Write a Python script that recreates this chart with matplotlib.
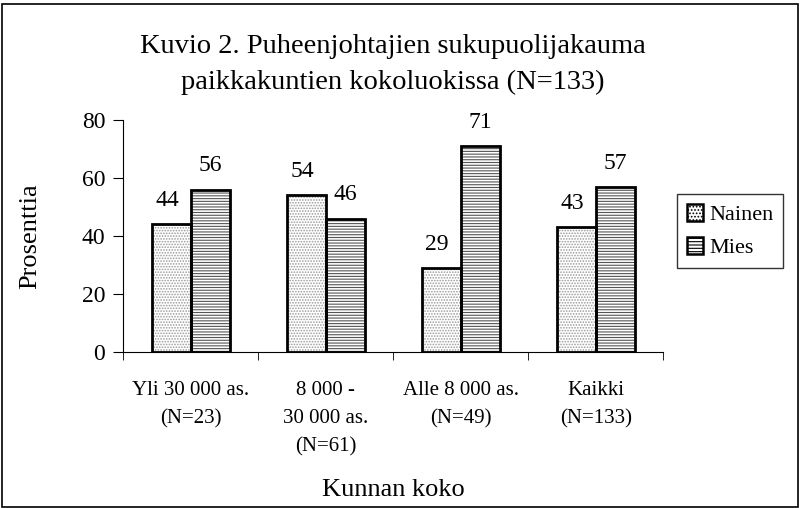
import matplotlib.pyplot as plt
import numpy as np
from matplotlib.patches import Patch, Rectangle

categories = ['Yli 30 000 as.\n(N=23)', '8 000 -\n30 000 as.\n(N=61)',
              'Alle 8 000 as.\n(N=49)', 'Kaikki\n(N=133)']
nainen = [44, 54, 29, 43]
mies = [56, 46, 71, 57]

plt.rcParams['font.family'] = ['Liberation Serif', 'DejaVu Serif']
plt.rcParams['hatch.linewidth'] = 0.8

fig = plt.figure(figsize=(8, 5.08), dpi=100)
ax = fig.add_axes([0.154, 0.307, 0.675, 0.457])

x = np.arange(len(categories))
w = 0.29

# hatch layer, then black outline on top
ax.bar(x - w / 2, nainen, w, facecolor='white', edgecolor='#9a9a9a', hatch='......', linewidth=0)
ax.bar(x + w / 2, mies, w, facecolor='white', edgecolor='#555555', hatch='------', linewidth=0)
ax.bar(x - w / 2, nainen, w, fill=False, edgecolor='black', linewidth=2)
ax.bar(x + w / 2, mies, w, fill=False, edgecolor='black', linewidth=2)

for i in range(len(categories)):
    ax.text(x[i] - w / 2 - 0.03, nainen[i] + 4.5, str(nainen[i]), ha='center', va='bottom', fontsize=17)
    ax.text(x[i] + w / 2, mies[i] + 4.5, str(mies[i]), ha='center', va='bottom', fontsize=17)

ax.set_xlim(-0.5, 3.5)
ax.set_ylim(0, 80)
ax.set_yticks([0, 20, 40, 60, 80])
ax.tick_params(axis='y', labelsize=17, length=7, direction='out', pad=6)
ax.set_xticks(x)
ax.set_xticklabels(categories, fontsize=15, linespacing=1.65)
ax.tick_params(axis='x', length=0, pad=21)
ax.set_xticks(np.arange(-0.5, 4, 1), minor=True)
ax.tick_params(axis='x', which='minor', length=6, direction='out')

ax.spines['top'].set_visible(False)
ax.spines['right'].set_visible(False)

ax.set_ylabel('Prosenttia', fontsize=19, labelpad=29)
ax.set_xlabel('Kunnan koko', fontsize=19, labelpad=16)
ax.set_title('Kuvio 2. Puheenjohtajien sukupuolijakauma\npaikkakuntien kokoluokissa (N=133)',
             fontsize=20.5, linespacing=1.6, pad=22)

handles = [Patch(facecolor='white', edgecolor='black', hatch='.....', linewidth=1.8, label='Nainen'),
           Patch(facecolor='white', edgecolor='black', hatch='-----', linewidth=1.8, label='Mies')]
leg = ax.legend(handles=handles, loc='center left', bbox_to_anchor=(1.025, 0.52),
                fontsize=16, frameon=True, fancybox=False, edgecolor='black',
                handlelength=0.75, handleheight=0.75, handletextpad=0.25, borderpad=0.45,
                labelspacing=0.55, borderaxespad=0)
leg.get_frame().set_linewidth(1)

fig.patches.append(Rectangle((0.002, 0.002), 0.996, 0.99, transform=fig.transFigure,
                             fill=False, edgecolor='black', linewidth=1.2))

fig.savefig('out.png', dpi=100)
